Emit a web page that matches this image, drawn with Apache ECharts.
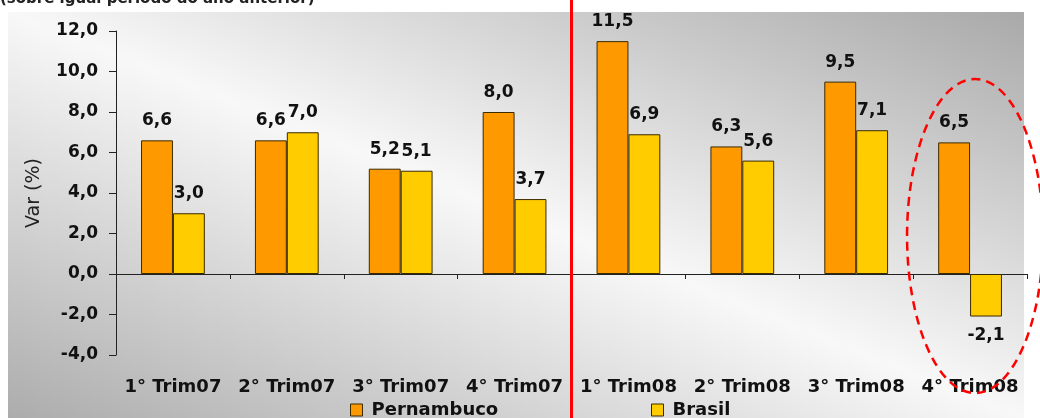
<!DOCTYPE html>
<html>
<head>
<meta charset="utf-8">
<script src="https://cdn.jsdelivr.net/npm/echarts@6/dist/echarts.min.js"></script>
<style>
  html, body { margin: 0; padding: 0; background: #ffffff; }
  #chart { width: 1040px; height: 418px; }
</style>
</head>
<body>
<div id="chart"></div>
<script>
// Quarterly growth (%) vs. same period of the previous year
const categories = ['1° Trim07', '2° Trim07', '3° Trim07', '4° Trim07',
                    '1° Trim08', '2° Trim08', '3° Trim08', '4° Trim08'];
const pernambuco = [6.6, 6.6, 5.2, 8.0, 11.5, 6.3, 9.5, 6.5];
const brasil = [3.0, 7.0, 5.1, 3.7, 6.9, 5.6, 7.1, -2.1];
const yMin = -4;
const yMax = 12;
const yStep = 2;

const FONT = 'DejaVu Sans';
const fmt = v => Number(v).toFixed(1).replace('.', ',');

// negative bars get their label underneath
const toItems = arr => arr.map(v => ({
  value: v,
  label: { position: v < 0 ? 'bottom' : 'top' }
}));

const barLabel = {
  show: true,
  distance: 11,
  color: '#111',
  fontFamily: FONT,
  fontWeight: 'bold',
  fontSize: 17,
  formatter: p => fmt(p.value)
};

const legendBase = {
  icon: 'rect', itemWidth: 12, itemHeight: 12, top: 396,
  itemStyle: { borderColor: '#3a2a00', borderWidth: 1 },
  textStyle: { fontFamily: FONT, fontWeight: 'bold', fontSize: 18, color: '#111', padding: [0, 0, 0, 4] }
};

const chart = echarts.init(document.getElementById('chart'), null, { renderer: 'canvas' });

const option = {
  backgroundColor: '#ffffff',
  animation: false,
  grid: { left: 116, right: 13, top: 31, bottom: 63, containLabel: false, outerBoundsMode: 'none' },
  legend: [
    Object.assign({ data: ['Pernambuco'], left: 345 }, legendBase),
    Object.assign({ data: ['Brasil'], left: 646 }, legendBase)
  ],
  xAxis: [
    {
      // zero line with quarter separators
      type: 'category',
      data: categories,
      axisLine: { onZero: true, lineStyle: { color: '#222', width: 1 } },
      axisTick: { show: true, length: 5, lineStyle: { color: '#222' } },
      axisLabel: { show: false },
      splitLine: { show: false }
    },
    {
      // quarter names along the bottom edge
      type: 'category',
      data: categories,
      position: 'bottom',
      axisLine: { show: false, onZero: false },
      axisTick: { show: false },
      axisLabel: {
        show: true, margin: 23, interval: 0, color: '#111',
        fontFamily: FONT, fontWeight: 'bold', fontSize: 18
      },
      splitLine: { show: false }
    }
  ],
  yAxis: {
    type: 'value',
    min: yMin, max: yMax, interval: yStep,
    name: 'Var (%)',
    nameLocation: 'middle',
    nameGap: 72,
    nameRotate: 90,
    nameTextStyle: { fontFamily: FONT, fontSize: 19, color: '#222' },
    axisLine: { show: true, lineStyle: { color: '#222', width: 1 } },
    axisTick: { show: true, length: 7, lineStyle: { color: '#222' } },
    axisLabel: {
      margin: 18, color: '#111',
      fontFamily: FONT, fontWeight: 'bold', fontSize: 17,
      formatter: v => fmt(v)
    },
    splitLine: { show: false }
  },
  series: [
    {
      name: 'Pernambuco',
      type: 'bar',
      data: toItems(pernambuco),
      barGap: '0%',
      barCategoryGap: '44%',
      itemStyle: { color: '#FF9900', borderColor: '#3a2a00', borderWidth: 1 },
      label: barLabel,
      z: 3
    },
    {
      name: 'Brasil',
      type: 'bar',
      data: toItems(brasil),
      barGap: '0%',
      barCategoryGap: '44%',
      itemStyle: { color: '#FFCC00', borderColor: '#3a2a00', borderWidth: 1 },
      label: barLabel,
      z: 3
    }
  ]
};

chart.setOption(option);

// Overlays: shaded panel, subtitle, 2007/2008 divider and highlight ellipse
const bandLeft = chart.convertToPixel({ xAxisIndex: 0 }, categories[3]);
const bandRight = chart.convertToPixel({ xAxisIndex: 0 }, categories[4]);
const dividerX = (bandLeft + bandRight) / 2;
const lastX = chart.convertToPixel({ xAxisIndex: 0 }, categories[categories.length - 1]);

// panel shading: light along the top-left/bottom-right diagonal, darker toward the other corners
const panel = { x: 8, y: 12, width: 1016, height: 406 };
const pcx = panel.x + panel.width / 2;
const pcy = panel.y + panel.height / 2;
const dlen = Math.hypot(panel.width, panel.height);
const nx = -panel.height / dlen;
const ny = panel.width / dlen;
const reach = Math.abs((panel.width / 2) * nx + (-panel.height / 2) * ny);

chart.setOption({
  graphic: [
    {
      type: 'rect',
      z: -10,
      silent: true,
      shape: panel,
      style: {
        fill: new echarts.graphic.LinearGradient(
          pcx - reach * nx, pcy - reach * ny,
          pcx + reach * nx, pcy + reach * ny,
          [
            { offset: 0, color: '#a9a9a9' },
            { offset: 0.5, color: '#f8f8f8' },
            { offset: 1, color: '#acacac' }
          ], true)
      }
    },
    {
      type: 'text',
      z: 10,
      silent: true,
      x: 0,
      y: 7,
      style: {
        text: '(sobre igual período do ano anterior)',
        font: 'bold 15px ' + FONT,
        fill: '#222',
        verticalAlign: 'bottom',
        align: 'left'
      }
    },
    {
      type: 'line',
      z: 20,
      silent: true,
      shape: { x1: dividerX, y1: 0, x2: dividerX, y2: 418 },
      style: { stroke: '#ff0000', lineWidth: 3 }
    },
    {
      type: 'ellipse',
      z: 20,
      silent: true,
      shape: { cx: lastX + 5, cy: 236, rx: 68, ry: 157 },
      style: { fill: null, stroke: '#ff0000', lineWidth: 2.5, lineDash: [9, 6] }
    }
  ]
});
</script>
</body>
</html>
